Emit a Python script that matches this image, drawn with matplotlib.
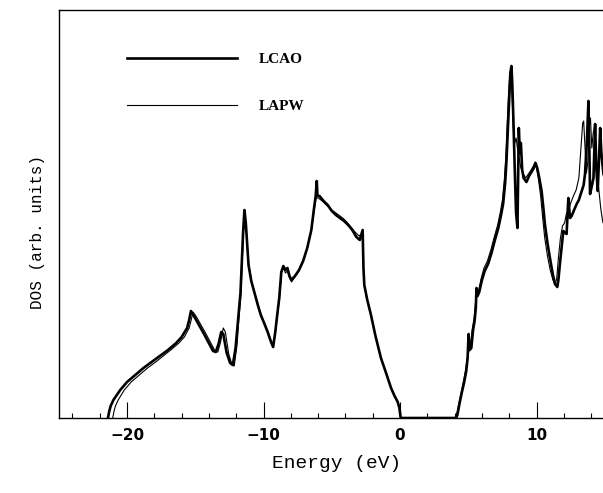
import matplotlib
matplotlib.use("Agg")
import matplotlib.pyplot as plt
from matplotlib.ticker import MultipleLocator

# LCAO density of states (energy in eV, DOS in arbitrary units)
lcao_energy = [
    -21.4, -21.3, -21.2, -21.0, -20.5, -20.0, -19.4, -18.8, -18.2, -17.6,
    -17.0, -16.4, -16.0, -15.6, -15.45, -15.32, -15.1, -14.4, -13.7, -13.5,
    -13.3, -13.1, -12.95, -12.7, -12.45, -12.25, -12.05, -11.85, -11.69, -11.5,
    -11.4, -11.3, -11.1, -10.9, -10.7, -10.4, -10.2, -9.9, -9.7, -9.45,
    -9.3, -9.15, -9.0, -8.85, -8.7, -8.55, -8.4, -8.25, -8.1, -7.95,
    -7.7, -7.4, -7.1, -6.8, -6.5, -6.3, -6.18, -6.1, -6.05, -5.9,
    -5.6, -5.3, -5.0, -4.7, -4.4, -4.1, -3.8, -3.5, -3.2, -2.95,
    -2.8, -2.74, -2.68, -2.62, -2.4, -2.13, -1.8, -1.4, -1.0, -0.66,
    -0.4, -0.17, -0.05, 0.05, 4.1,
    4.2, 4.35, 4.5, 4.7, 4.85, 4.95, 5.02, 5.1, 5.22, 5.35,
    5.46, 5.55, 5.6, 5.68, 5.8, 6.0, 6.2, 6.45, 6.7, 6.93,
    7.2, 7.4, 7.55, 7.7, 7.8, 7.9, 8.0, 8.08, 8.16, 8.22,
    8.3, 8.4, 8.5, 8.6, 8.65, 8.7, 8.78, 8.85, 8.95, 9.05,
    9.26, 9.45, 9.63, 9.8, 9.93, 10.05, 10.2, 10.37, 10.5, 10.61,
    10.8, 10.98, 11.2, 11.35, 11.52, 11.6, 11.71, 11.85, 11.96, 12.1,
    12.2, 12.33, 12.45, 12.57, 12.75, 12.94, 13.1, 13.31, 13.45, 13.55,
    13.7, 13.8, 13.88, 13.92, 14.05, 14.17, 14.29, 14.38, 14.48, 14.58,
    14.66, 14.75, 14.9, 15.0,
]
lcao_dos = [
    0, 7, 12, 18, 28, 36, 43, 50, 56, 62,
    68, 75, 81, 90, 98, 107, 102, 85, 67, 66,
    74, 86, 84, 65, 55, 53, 70, 100, 125, 185,
    208, 195, 153, 137, 127, 112, 103, 93, 86, 76,
    71, 85, 103, 120, 146, 152, 148, 150, 142, 138,
    142, 148, 157, 170, 188, 210, 222, 237, 222, 222,
    217, 213, 207, 203, 200, 197, 193, 188, 181, 178,
    185, 188, 150, 133, 118, 103, 82, 60, 44, 30,
    22, 16, 10, 0, 0,
    3, 14, 24, 36, 47, 60, 84, 68, 70, 88,
    97, 110, 130, 122, 126, 138, 147, 154, 165, 177,
    190, 203, 214, 235, 258, 290, 320, 345, 352, 335,
    300, 250, 205, 190, 240, 290, 265, 275, 248, 240,
    236, 242, 246, 250, 255, 250, 240, 227, 210, 194,
    175, 160, 143, 134, 131, 138, 154, 172, 187, 185,
    184, 220, 200, 202, 208, 214, 218, 227, 233, 244,
    280, 317, 260, 224, 232, 240, 294, 250, 227, 260,
    290, 265, 244, 240,
]

# LAPW density of states
lapw_energy = [
    -21.05, -20.95, -20.85, -20.65, -20.2, -19.7, -19.1, -18.5, -17.9, -17.35,
    -16.8, -16.2, -15.8, -15.45, -15.3, -15.17, -14.95, -14.25, -13.55, -13.35,
    -13.15, -12.95, -12.8, -12.55, -12.3, -12.15, -11.95, -11.8, -11.65, -11.48,
    -11.38, -11.28, -11.08, -10.88, -10.68, -10.38, -10.18, -9.88, -9.68, -9.43,
    -9.28, -9.13, -8.98, -8.83, -8.68, -8.53, -8.4, -8.25, -8.1, -7.95,
    -7.7, -7.4, -7.1, -6.8, -6.5, -6.3, -6.15, -6.0, -5.7, -5.4,
    -5.1, -4.8, -4.5, -4.2, -3.9, -3.6, -3.3, -3.0, -2.85, -2.74,
    -2.68, -2.62, -2.4, -2.13, -1.8, -1.4, -1.0, -0.66, -0.4, -0.17,
    -0.05, 0.05, 4.05,
    4.15, 4.3, 4.45, 4.65, 4.8, 4.95, 5.15, 5.3, 5.42, 5.55,
    5.75, 5.95, 6.15, 6.4, 6.65, 6.88, 7.15, 7.35, 7.5, 7.65,
    7.75, 7.85, 7.95, 8.05, 8.12, 8.2, 8.3, 8.4, 8.5, 8.6,
    8.7, 8.85, 9.0, 9.2, 9.4, 9.6, 9.8, 9.9, 10.0, 10.15,
    10.3, 10.45, 10.6, 10.8, 11.0, 11.2, 11.38, 11.48, 11.6, 11.75,
    11.9, 12.05, 12.2, 12.35, 12.5, 12.7, 12.9, 13.1, 13.25, 13.38,
    13.45, 13.55, 13.65, 13.75, 13.85, 13.95, 14.05, 14.15, 14.25, 14.4,
    14.55, 14.7, 14.85, 15.0,
]
lapw_dos = [
    0, 7, 12, 18, 28, 36, 43, 50, 56, 62,
    68, 75, 81, 90, 98, 106, 102, 85, 67, 66,
    76, 90, 86, 64, 53, 52, 72, 100, 125, 185,
    204, 190, 153, 137, 127, 112, 103, 93, 86, 76,
    71, 85, 103, 120, 146, 150, 145, 147, 140, 136,
    141, 147, 157, 170, 188, 207, 220, 220, 217, 213,
    209, 206, 203, 200, 196, 191, 186, 182, 184, 178,
    150, 133, 118, 103, 82, 60, 44, 30, 22, 16,
    10, 0, 0,
    4, 14, 24, 37, 48, 62, 72, 90, 99, 118,
    127, 140, 150, 157, 168, 180, 193, 206, 218, 240,
    262, 295, 325, 345, 348, 325, 290, 275, 280, 270,
    262, 250, 245, 240, 244, 248, 253, 256, 250, 238,
    222, 200, 180, 162, 148, 138, 134, 140, 160, 180,
    192, 195, 205, 208, 215, 222, 228, 240, 270, 295,
    297, 270, 245, 255, 290, 300, 270, 285, 292, 250,
    230, 210, 196, 192,
]

xticks = [-20, -10, 0, 10]

fig = plt.figure(figsize=(6.03, 4.93), dpi=100)
ax = fig.add_axes([58.8 / 603, 75 / 493, 546 / 603, 408 / 493])

ax.plot(lcao_energy, lcao_dos, color="black", lw=1.9, label="LCAO")
ax.plot(lapw_energy, lapw_dos, color="black", lw=0.8, label="LAPW")

ax.set_xlim(-25, 15)
ax.set_ylim(0, 408)

ax.set_xticks(xticks)
ax.xaxis.set_minor_locator(MultipleLocator(2))
ax.tick_params(axis="x", which="major", direction="in", length=11.5, width=0.8, pad=7)
ax.tick_params(axis="x", which="minor", direction="in", length=3.6, width=0.8)
ax.set_yticks([])
for lab in ax.get_xticklabels():
    lab.set_fontweight("bold")
    lab.set_fontsize(11)
    lab.set_family("DejaVu Sans")

ax.spines["right"].set_visible(False)
for s in ["left", "top", "bottom"]:
    ax.spines[s].set_linewidth(1.0)

ax.set_xlabel("Energy (eV)", family="Liberation Mono", fontsize=14)
ax.xaxis.set_label_coords(0.509, -0.09)
ax.set_ylabel("DOS (arb. units)", family="Liberation Mono", fontsize=11.5)
ax.yaxis.set_label_coords(-0.025, 0.456)

ax.legend(loc="upper left", bbox_to_anchor=(0.1, 0.93), frameon=False,
          handlelength=7.2, handletextpad=1.4, labelspacing=2.2,
          prop={"family": "Liberation Serif", "weight": "bold", "size": 11})

fig.savefig("out.png", dpi=100)
